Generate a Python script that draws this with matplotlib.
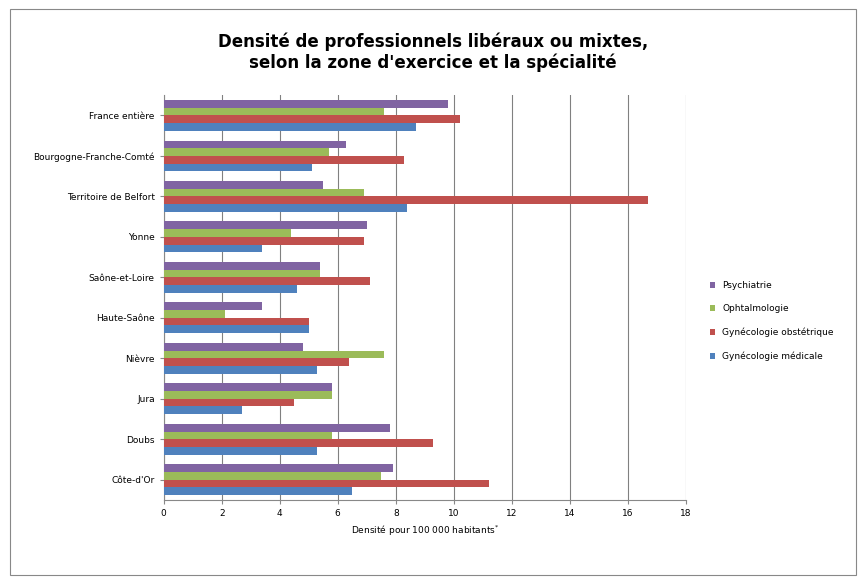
import matplotlib
matplotlib.use("Agg")
import matplotlib.pyplot as plt
import numpy as np
from matplotlib.patches import Rectangle

zones = ["Côte-d'Or", "Doubs", "Jura", "Nièvre", "Haute-Saône", "Saône-et-Loire",
         "Yonne", "Territoire de Belfort", "Bourgogne-Franche-Comté", "France entière"]
gyn_med = [6.5, 5.3, 2.7, 5.3, 5.0, 4.6, 3.4, 8.4, 5.1, 8.7]
gyn_obs = [11.2, 9.3, 4.5, 6.4, 5.0, 7.1, 6.9, 16.7, 8.3, 10.2]
ophta = [7.5, 5.8, 5.8, 7.6, 2.1, 5.4, 4.4, 6.9, 5.7, 7.6]
psy = [7.9, 7.8, 5.8, 4.8, 3.4, 5.4, 7.0, 5.5, 6.3, 9.8]
series = [("Gynécologie médicale", gyn_med, "#4F81BD"),
          ("Gynécologie obstétrique", gyn_obs, "#C0504D"),
          ("Ophtalmologie", ophta, "#9BBB59"),
          ("Psychiatrie", psy, "#8064A2")]

fig = plt.figure(figsize=(8.66, 5.84), dpi=100)
fig.patches.append(Rectangle((0.012, 0.015), 0.976, 0.97, transform=fig.transFigure,
                             fill=False, edgecolor="#888888", lw=0.8))
ax = fig.add_axes([0.189, 0.144, 0.603, 0.693])
y = np.arange(len(zones))
h = 0.19
for i, (name, vals, c) in enumerate(series):
    ax.barh(y + (i - 1.5) * h, vals, height=h, color=c, label=name, zorder=3)
ax.set_xlim(0, 18)
ax.set_ylim(-0.5, len(zones) - 0.5)
ax.set_xticks(range(0, 19, 2))
ax.set_yticks(y)
ax.set_yticklabels(zones)
ax.tick_params(labelsize=6.5, length=3, color="#888888")
ax.xaxis.grid(True, color="#808080", lw=0.8, zorder=0)
for s in ["top", "right"]:
    ax.spines[s].set_visible(False)
ax.spines["left"].set_color("#888888")
ax.spines["bottom"].set_color("#888888")
ax.set_xlabel("Densité pour 100 000 habitants$^{*}$", fontsize=6.5)
fig.suptitle("Densité de professionnels libéraux ou mixtes,\nselon la zone d'exercice et la spécialité",
             fontsize=12, fontweight="bold", y=0.945)
handles, labels = ax.get_legend_handles_labels()
fig.legend(handles[::-1], labels[::-1], loc="center left", bbox_to_anchor=(0.81, 0.45),
           frameon=False, fontsize=6.5, handlelength=0.6, handleheight=0.6, labelspacing=1.6)
fig.savefig("out.png", dpi=100)
